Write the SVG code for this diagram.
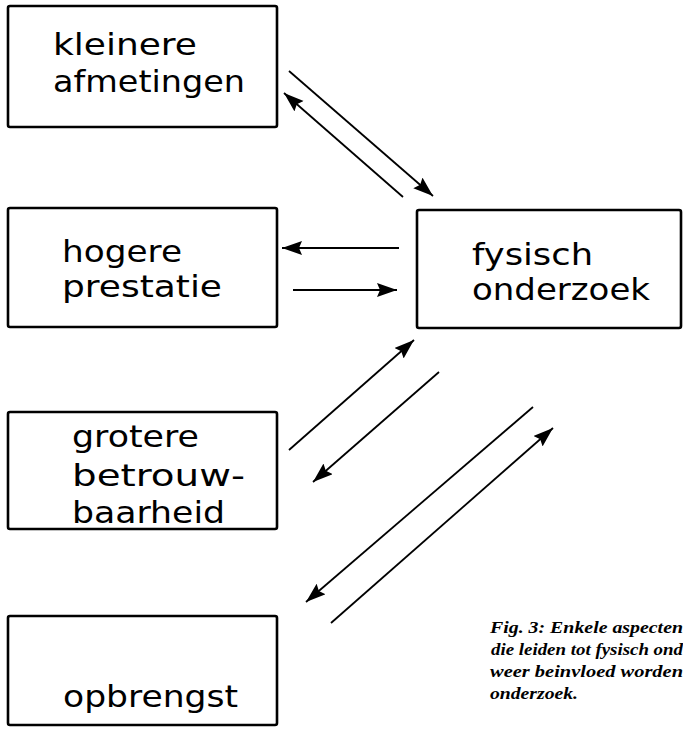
<svg xmlns="http://www.w3.org/2000/svg" width="683" height="736" viewBox="0 0 683 736">
<defs>
<marker id="ah" markerUnits="userSpaceOnUse" markerWidth="22" markerHeight="16" refX="20" refY="7" orient="auto">
<path d="M0,0 L20,7 L0,14 L3,7 z" fill="#000"/>
</marker>
<style>
.box{fill:#fff;stroke:#000;stroke-width:2.6}
.lbl{font-family:"DejaVu Sans",sans-serif;font-size:30px;fill:#000}
.cap{font-family:"Liberation Serif",serif;font-style:italic;font-size:16px;font-weight:bold;fill:#000}
.con line{stroke:#000;stroke-width:1.8;marker-end:url(#ah)}
</style>
</defs>
<rect width="683" height="736" fill="#fff"/>
<g id="n-kleinere">
<rect class="box" x="8" y="6" width="269" height="121" rx="2"/>
<text class="lbl" x="53" y="55" textLength="144" lengthAdjust="spacingAndGlyphs">kleinere</text>
<text class="lbl" x="53" y="92" textLength="192" lengthAdjust="spacingAndGlyphs">afmetingen</text>
</g>
<g id="n-hogere">
<rect class="box" x="8" y="208" width="269" height="119" rx="2"/>
<text class="lbl" x="62" y="262" textLength="120" lengthAdjust="spacingAndGlyphs">hogere</text>
<text class="lbl" x="62" y="297" textLength="160" lengthAdjust="spacingAndGlyphs">prestatie</text>
</g>
<g id="n-grotere">
<rect class="box" x="8" y="412" width="269" height="117" rx="2"/>
<text class="lbl" x="72" y="447" textLength="127" lengthAdjust="spacingAndGlyphs">grotere</text>
<text class="lbl" x="72" y="486" textLength="173" lengthAdjust="spacingAndGlyphs">betrouw-</text>
<text class="lbl" x="72" y="523" textLength="153" lengthAdjust="spacingAndGlyphs">baarheid</text>
</g>
<g id="n-opbrengst">
<rect class="box" x="8" y="616" width="269" height="109" rx="2"/>
<text class="lbl" x="63" y="707" textLength="175" lengthAdjust="spacingAndGlyphs">opbrengst</text>
</g>
<g id="n-fysisch">
<rect class="box" x="417" y="210" width="264" height="118" rx="2"/>
<text class="lbl" x="472" y="265" textLength="121" lengthAdjust="spacingAndGlyphs">fysisch</text>
<text class="lbl" x="472" y="300" textLength="178" lengthAdjust="spacingAndGlyphs">onderzoek</text>
</g>
<g id="connectors" class="con">
<line x1="289" y1="71" x2="433" y2="196"/>
<line x1="403" y1="197" x2="284" y2="93"/>
<line x1="399" y1="248" x2="282" y2="248"/>
<line x1="293" y1="290" x2="397" y2="290"/>
<line x1="289" y1="450" x2="414" y2="340"/>
<line x1="439" y1="372" x2="313" y2="482"/>
<line x1="533" y1="407" x2="306" y2="602"/>
<line x1="331" y1="623" x2="553" y2="428"/>
</g>
<g id="caption">
<text class="cap" x="490" y="633" textLength="193" lengthAdjust="spacingAndGlyphs">Fig. 3: Enkele aspecten</text>
<text class="cap" x="491" y="655" textLength="192" lengthAdjust="spacingAndGlyphs">die leiden tot fysisch ond</text>
<text class="cap" x="490" y="677" textLength="193" lengthAdjust="spacingAndGlyphs">weer beinvloed worden</text>
<text class="cap" x="490" y="699" textLength="88" lengthAdjust="spacingAndGlyphs">onderzoek.</text>
</g>
</svg>
